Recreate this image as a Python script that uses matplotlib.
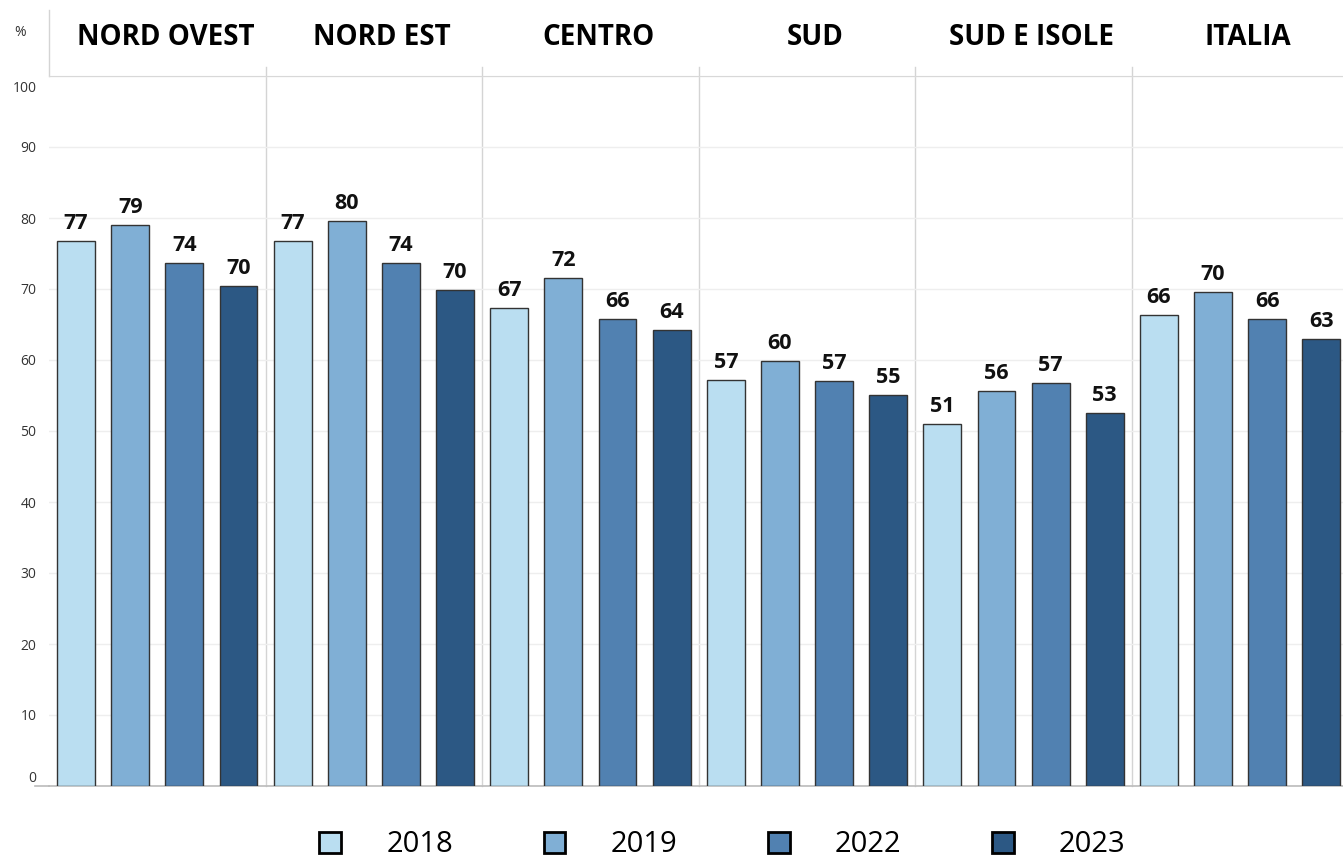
import numpy as np
import matplotlib.pyplot as plt
from matplotlib.patches import Patch
from matplotlib.transforms import ScaledTranslation

regions = ["NORD OVEST", "NORD EST", "CENTRO", "SUD", "SUD E ISOLE", "ITALIA"]
years = ["2018", "2019", "2022", "2023"]
v2018 = [76.8, 76.8, 67.3, 57.2, 51.0, 66.3]
v2019 = [79.0, 79.6, 71.6, 59.9, 55.6, 69.6]
v2022 = [73.7, 73.7, 65.8, 57.0, 56.8, 65.8]
v2023 = [70.4, 69.9, 64.2, 55.1, 52.6, 63.0]
series = [v2018, v2019, v2022, v2023]
colors = ["#badef1", "#80afd5", "#5181b1", "#2c5884"]

plt.rcParams['font.family'] = ['Open Sans', 'DejaVu Sans']

fig = plt.figure(figsize=(13.43, 8.61), dpi=100)
ax = fig.add_axes([49/1343, 75/861, 1 - 49/1343, 710/861])

n = len(years)
for j, vals in enumerate(series):
    x = np.arange(len(regions)) * n + j + 0.5
    bars = ax.bar(x, vals, width=0.7, color=colors[j], edgecolor="#333333", linewidth=1, zorder=3)
    for b, v in zip(bars, vals):
        ax.annotate(f"{round(v)}", (b.get_x() + b.get_width() / 2, v), xytext=(0, 5),
                    textcoords="offset points", ha="center", va="bottom",
                    fontsize=15.5, fontweight="bold", color="#111111")

# region headers and separators
for i, r in enumerate(regions):
    ax.text(i * n + n / 2 + 0.15, 105.4, r, ha="center", va="center",
            fontsize=20, fontweight="bold", clip_on=False)
    if i > 0:
        ax.plot([i * n, i * n], [0, 101.3], color="#d4d4d4", lw=1, clip_on=False, zorder=1)
ax.plot([0, 0], [100, 109.3], color="#d4d4d4", lw=1, clip_on=False)

ax.set_xlim(0, len(regions) * n - 0.1)
ax.set_ylim(0, 100)
ax.set_yticks(range(0, 101, 10))
ax.set_xticks([])
ax.yaxis.grid(True, color="#eeeeee", lw=1, zorder=0)
ax.tick_params(axis="y", length=0, pad=9, labelsize=10, labelcolor="#333333")
for lab in ax.get_yticklabels():
    if lab.get_text() == "0":
        lab.set_va("bottom")
    if lab.get_text() == "100":
        lab.set_va("top")
        lab.set_transform(lab.get_transform() + ScaledTranslation(0, -0.05, fig.dpi_scale_trans))
for s in ["left", "right"]:
    ax.spines[s].set_visible(False)
ax.spines["top"].set_color("#d8d8d8")
ax.spines["bottom"].set_color("#bbbbbb")
ax.spines["bottom"].set_linewidth(1.2)
ax.plot([-0.25, 0], [0, 0], color="#bbbbbb", lw=1.2, clip_on=False)

fig.text(20/1343, 1 - 33/861, "%", fontsize=10, color="#333333", ha="center", va="center")

handles = [Patch(facecolor=c, edgecolor="black", linewidth=2) for c in colors]
fig.legend(handles, years, loc="center", bbox_to_anchor=(0.538, 1 - 845/861), ncol=4,
           frameon=False, fontsize=21, handlelength=0.75, handleheight=0.75,
           handletextpad=1.55, columnspacing=3.1)

fig.savefig("out.png", dpi=100)
